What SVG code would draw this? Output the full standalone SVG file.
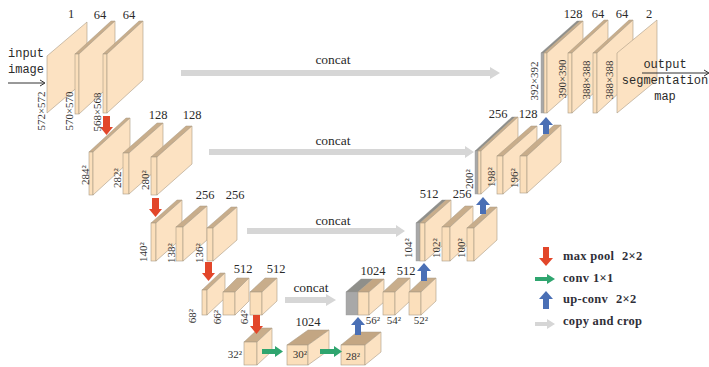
<svg xmlns="http://www.w3.org/2000/svg" width="709" height="367" viewBox="0 0 709 367">
<style>
.f{fill:#fbdfbb;stroke:#a99b85;stroke-width:.6}
.s{fill:#fce2c2;stroke:#a99b85;stroke-width:.6}
.t{fill:#c8ad8b;stroke:#a99b85;stroke-width:.5}
.d{fill:#c3a683;stroke:#a99b85;stroke-width:.5}
.g{fill:#a8a8a8;stroke:#999;stroke-width:.4}
.gt{fill:#8f8f8a;stroke:#888;stroke-width:.4}
.n{font-family:"Liberation Serif",serif;font-size:12.5px;fill:#2a2a2a;text-anchor:middle}
.r{font-family:"Liberation Serif",serif;font-size:11px;fill:#333;text-anchor:middle}
.c{font-family:"Liberation Serif",serif;font-size:13.5px;fill:#2a2a2a;text-anchor:middle}
.m{font-family:"Liberation Mono",monospace;font-size:12px;fill:#2a2a2a;text-anchor:middle}
.l{font-family:"Liberation Serif",serif;font-size:12.5px;font-weight:bold;letter-spacing:.3px;fill:#2f2f38}
.gr{fill:#d6d6d6}.rd{fill:#e2462a}.gn{fill:#2fa56f}.bl{fill:#4a6fb5}
.k{stroke:#333;stroke-width:1;fill:none}
</style>
<g id="n-a1"><polygon class="s" points="47,56 87,22 87,79 47,113"/></g>
<g id="n-a2"><polygon class="t" points="75,54 111,21 115,21 79,54"/><rect class="f" x="75" y="54" width="4" height="60"/><polygon class="s" points="79,54 115,21 115,81 79,114"/></g>
<g id="n-a3"><polygon class="t" points="103,54 139,21 143,21 107,54"/><rect class="f" x="103" y="54" width="4" height="59"/><polygon class="s" points="107,54 143,21 143,80 107,113"/></g>
<g id="n-b1"><polygon class="t" points="89,152 126,118 130,118 93,152"/><rect class="f" x="89" y="152" width="4" height="43"/><polygon class="s" points="93,152 130,118 130,161 93,195"/></g>
<g id="n-b2"><polygon class="t" points="123,153 157,123 163,123 129,153"/><rect class="f" x="123" y="153" width="6" height="41"/><polygon class="s" points="129,153 163,123 163,164 129,194"/></g>
<g id="n-b3"><polygon class="t" points="151,157 186,126 192,126 157,157"/><rect class="f" x="151" y="157" width="6" height="38"/><polygon class="s" points="157,157 192,126 192,164 157,195"/></g>
<g id="n-c1"><polygon class="t" points="151,223 177,200 182,200 156,223"/><rect class="f" x="151" y="223" width="5" height="38"/><polygon class="s" points="156,223 182,200 182,238 156,261"/></g>
<g id="n-c2"><polygon class="t" points="176,227 200,206 207,206 183,227"/><rect class="f" x="176" y="227" width="7" height="34"/><polygon class="s" points="183,227 207,206 207,240 183,261"/></g>
<g id="n-c3"><polygon class="t" points="207,228 231,207 237,207 213,228"/><rect class="f" x="207" y="228" width="6" height="33"/><polygon class="s" points="213,228 237,207 237,240 213,261"/></g>
<g id="n-d1"><polygon class="t" points="202,290 220,273 225,273 207,290"/><rect class="f" x="202" y="290" width="5" height="25"/><polygon class="s" points="207,290 225,273 225,298 207,315"/></g>
<g id="n-d2"><polygon class="t" points="223,292 237,278 249,278 235,292"/><rect class="f" x="223" y="292" width="12" height="23"/><polygon class="s" points="235,292 249,278 249,301 235,315"/></g>
<g id="n-d3"><polygon class="t" points="250,292 265,278 277,278 262,292"/><rect class="f" x="250" y="292" width="12" height="23"/><polygon class="s" points="262,292 277,278 277,301 262,315"/></g>
<g id="n-e1"><polygon class="t" points="244,342 259,328 272,328 257,342"/><rect class="f" x="244" y="342" width="13" height="23"/><polygon class="s" points="257,342 272,328 272,351 257,365"/></g>
<g id="n-e2"><polygon class="d" points="287,345 308,330 329,330 308,345"/><rect class="f" x="287" y="345" width="21" height="20"/><polygon class="s" points="308,345 329,330 329,350 308,365"/></g>
<g id="n-e3"><polygon class="d" points="341,345 357,332 381,332 365,345"/><rect class="f" x="341" y="345" width="24" height="20"/><polygon class="s" points="365,345 381,332 381,352 365,365"/></g>
<g id="n-f1"><polygon class="gt" points="346,292 361,279 373,279 358,292"/><polygon class="d" points="358,292 373,279 384,279 369,292"/><rect class="g" x="346" y="292" width="12" height="23"/><rect class="f" x="358" y="292" width="11" height="23"/><polygon class="s" points="369,292 384,279 384,302 369,315"/></g>
<g id="n-f2"><polygon class="t" points="383,292 398,278 410,278 395,292"/><rect class="f" x="383" y="292" width="12" height="23"/><polygon class="s" points="395,292 410,278 410,301 395,315"/></g>
<g id="n-f3"><polygon class="t" points="409,292 424,278 436,278 421,292"/><rect class="f" x="409" y="292" width="12" height="23"/><polygon class="s" points="421,292 436,278 436,301 421,315"/></g>
<g id="n-g1"><polygon class="gt" points="416,223 442,200 446,200 420,223"/><polygon class="t" points="420,223 446,200 451,200 425,223"/><rect class="g" x="416" y="223" width="4" height="38"/><rect class="f" x="420" y="223" width="5" height="38"/><polygon class="s" points="425,223 451,200 451,238 425,261"/></g>
<g id="n-g2"><polygon class="t" points="442,227 465,206 473,206 450,227"/><rect class="f" x="442" y="227" width="8" height="34"/><polygon class="s" points="450,227 473,206 473,240 450,261"/></g>
<g id="n-g3"><polygon class="t" points="467,228 490,207 497,207 474,228"/><rect class="f" x="467" y="228" width="7" height="33"/><polygon class="s" points="474,228 497,207 497,240 474,261"/></g>
<g id="n-h1"><polygon class="gt" points="475,151 512,117 515,117 478,151"/><polygon class="t" points="478,151 515,117 518,117 481,151"/><rect class="g" x="475" y="151" width="3" height="43"/><rect class="f" x="478" y="151" width="3" height="43"/><polygon class="s" points="481,151 518,117 518,160 481,194"/></g>
<g id="n-h2"><polygon class="t" points="497,156 531,126 537,126 503,156"/><rect class="f" x="497" y="156" width="6" height="38"/><polygon class="s" points="503,156 537,126 537,164 503,194"/></g>
<g id="n-h3"><polygon class="t" points="520,156 554,125 561,125 527,156"/><rect class="f" x="520" y="156" width="7" height="37"/><polygon class="s" points="527,156 561,125 561,162 527,193"/></g>
<g id="n-i1"><polygon class="gt" points="541,53 577,21 580,21 544,53"/><polygon class="t" points="544,53 580,21 583,21 547,53"/><rect class="g" x="541" y="53" width="3" height="60"/><rect class="f" x="544" y="53" width="3" height="60"/><polygon class="s" points="547,53 583,21 583,81 547,113"/></g>
<g id="n-i2"><polygon class="t" points="568,53 604,20 608,20 572,53"/><rect class="f" x="568" y="53" width="4" height="60"/><polygon class="s" points="572,53 608,20 608,80 572,113"/></g>
<g id="n-i3"><polygon class="t" points="593,53 629,20 633,20 597,53"/><rect class="f" x="593" y="53" width="4" height="60"/><polygon class="s" points="597,53 633,20 633,80 597,113"/></g>
<g id="n-i4"><polygon class="s" points="617,53 657,20 657,80 617,113"/></g>
<g id="connectors">
<polygon class="gr" points="181,70 490,70 490,67 500,73 490,79 490,76 181,76"/>
<polygon class="gr" points="209,149 465,149 465,146 474,152 465,158 465,155 209,155"/>
<polygon class="gr" points="247,228 396,228 396,225 405,231 396,237 396,234 247,234"/>
<polygon class="gr" points="285,297 326,297 326,294 336,300 326,306 326,303 285,303"/>
<polygon class="rd" points="103,116 110,116 110,127 113,127 106.500,135 100,127 103,127"/>
<polygon class="rd" points="152,198 159,198 159,209 162,209 155.500,217 149,209 152,209"/>
<polygon class="rd" points="205,262 212,262 212,273 215,273 208.500,281 202,273 205,273"/>
<polygon class="rd" points="253,315 260,315 260,326 263,326 256.500,334 250,326 253,326"/>
<polygon class="gn" points="262,349 275,349 275,346 283,351.500 275,357 275,354 262,354"/>
<polygon class="gn" points="320,349 334,349 334,346 342,351.500 334,357 334,354 320,354"/>
<polygon class="bl" points="355,335 361,335 361,325 365,325 358,317 351,325 355,325"/>
<polygon class="bl" points="421,281 427,281 427,271 431,271 424,263 417,271 421,271"/>
<polygon class="bl" points="480,214 486,214 486,205 490,205 483,197 476,205 480,205"/>
<polygon class="bl" points="543,134 549,134 549,125 553,125 546,117 539,125 543,125"/>
<path class="k" d="M8 83H44M40 80L45 83L40 86"/>
<path class="k" d="M642 73H708M704 70L709 73L704 76"/>
</g>
<g id="labels">
<text class="m" x="26" y="57">input</text><text class="m" x="26" y="73">image</text>
<text class="m" x="665" y="68">output</text><text class="m" x="665" y="84">segmentation</text><text class="m" x="665" y="100">map</text>
<text class="c" x="333" y="64">concat</text><text class="c" x="333" y="145">concat</text><text class="c" x="333" y="225">concat</text><text class="c" x="311" y="292">concat</text>
<text class="n" x="71" y="18">1</text><text class="n" x="100" y="19">64</text><text class="n" x="129" y="19">64</text>
<text class="n" x="158" y="119">128</text><text class="n" x="192" y="119">128</text>
<text class="n" x="205" y="199">256</text><text class="n" x="235" y="199">256</text>
<text class="n" x="243" y="273">512</text><text class="n" x="276" y="273">512</text>
<text class="n" x="308" y="326">1024</text>
<text class="n" x="373" y="275">1024</text><text class="n" x="406" y="275">512</text>
<text class="n" x="429" y="198">512</text><text class="n" x="462" y="198">256</text>
<text class="n" x="498" y="118">256</text><text class="n" x="528" y="118">128</text>
<text class="n" x="573" y="18">128</text><text class="n" x="598" y="18">64</text><text class="n" x="622" y="18">64</text><text class="n" x="649" y="18">2</text>
<text class="r" transform="translate(45,111) rotate(-90)">572×572</text>
<text class="r" transform="translate(73,111) rotate(-90)">570×570</text>
<text class="r" transform="translate(101,112) rotate(-90)">568×568</text>
<text class="r" transform="translate(89,175) rotate(-90)">284²</text>
<text class="r" transform="translate(121,178) rotate(-90)">282²</text>
<text class="r" transform="translate(149,180) rotate(-90)">280²</text>
<text class="r" transform="translate(147,252) rotate(-90)">140²</text>
<text class="r" transform="translate(175,253) rotate(-90)">138²</text>
<text class="r" transform="translate(203,253) rotate(-90)">136²</text>
<text class="r" transform="translate(196,316) rotate(-90)">68²</text>
<text class="r" transform="translate(221,317) rotate(-90)">66²</text>
<text class="r" transform="translate(248,317) rotate(-90)">64²</text>
<text class="r" x="235" y="358">32²</text>
<text class="r" x="300" y="358">30²</text>
<text class="r" x="353" y="360">28²</text>
<text class="r" x="373" y="324">56²</text><text class="r" x="394" y="324">54²</text><text class="r" x="421" y="324">52²</text>
<text class="r" transform="translate(412,248) rotate(-90)">104²</text>
<text class="r" transform="translate(440,248) rotate(-90)">102²</text>
<text class="r" transform="translate(465,248) rotate(-90)">100²</text>
<text class="r" transform="translate(473,179) rotate(-90)">200²</text>
<text class="r" transform="translate(495,177) rotate(-90)">198²</text>
<text class="r" transform="translate(518,178) rotate(-90)">196²</text>
<text class="r" transform="translate(538,81) rotate(-90)">392×392</text>
<text class="r" transform="translate(566,79) rotate(-90)">390×390</text>
<text class="r" transform="translate(590,80) rotate(-90)">388×388</text>
<text class="r" transform="translate(613,80) rotate(-90)">388×388</text>
</g>
<g id="legend">
<polygon class="rd" points="543,247 549,247 549,258 553,258 546,266 539,258 543,258"/>
<polygon class="gn" points="535,277 547,277 547,274 555,279 547,284 547,281 535,281"/>
<polygon class="bl" points="543,309 549,309 549,299 553,299 546,291 539,299 543,299"/>
<polygon class="gr" points="535,322 547,322 547,319 555,324 547,329 547,326 535,326"/>
<text class="l" x="563" y="260">max pool</text><text class="l" x="622" y="260">2×2</text>
<text class="l" x="563" y="282">conv</text><text class="l" x="593" y="282">1×1</text>
<text class="l" x="563" y="303">up-conv</text><text class="l" x="616" y="303">2×2</text>
<text class="l" x="563" y="325">copy and crop</text>
</g>
</svg>
